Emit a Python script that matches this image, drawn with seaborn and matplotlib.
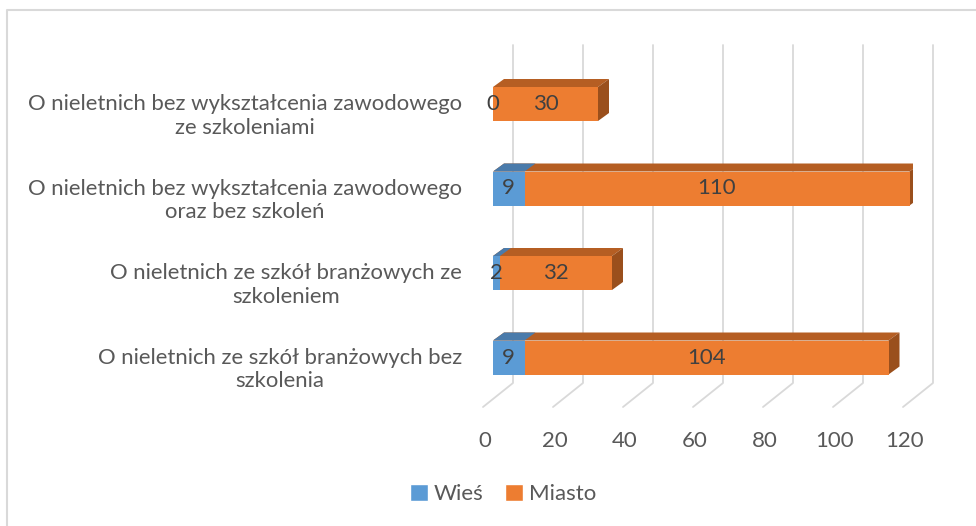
import numpy as np
import pandas as pd
import seaborn as sns
import matplotlib.pyplot as plt
from matplotlib.patches import Polygon, Patch
from matplotlib.lines import Line2D

categories = [
    "O nieletnich bez wykształcenia zawodowego\nze szkoleniami",
    "O nieletnich bez wykształcenia zawodowego\noraz bez szkoleń",
    "O nieletnich ze szkół branżowych ze\nszkoleniem",
    "O nieletnich ze szkół branżowych bez\nszkolenia",
]
wies = [0, 9, 2, 9]
miasto = [30, 110, 32, 104]
ticks = [0, 20, 40, 60, 80, 100, 120]

blue, orange = "#5B9BD5", "#ED7D31"
blue_top = "#4A7BAB"
orange_top, orange_side = "#B55E23", "#9A4F1C"
grey_txt = "#595959"
grid_col = "#D9D9D9"

sns.set_style("white")
plt.rcParams["font.family"] = ["Lato", "DejaVu Sans"]

W, H = 976, 526
fig = plt.figure(figsize=(W / 100, H / 100), dpi=100)

# axes geometry in pixels (front face of bars: 0 at x=493, 3.5 px per unit)
x0_px, ppu = 493, 3.5
xmin, xmax = -4, 120
top_px, bot_px = 45, 407
c0_px, step_px = 104, 84.5
ax = fig.add_axes([(x0_px + xmin * ppu) / W, 1 - bot_px / H,
                   (xmax - xmin) * ppu / W, (bot_px - top_px) / H])

df = pd.DataFrame({"cat": categories, "Wieś": wies, "Miasto": miasto})
df["total"] = df["Wieś"] + df["Miasto"]

bh = 34 / step_px
sns.barplot(data=df, x="total", y="cat", orient="h", color=orange,
            saturation=1, width=bh, ax=ax, zorder=3, linewidth=0)
sns.barplot(data=df, x="Wieś", y="cat", orient="h", color=blue,
            saturation=1, width=bh, ax=ax, zorder=3, linewidth=0)

ax.set_yticks([])
ax.set_ylabel("")
ax.set_xlabel("")
# tick labels sit a little left of the front scale (3D projection)
ax.set_xticks([v - 8 / ppu for v in ticks], labels=[str(v) for v in ticks])
ax.tick_params(axis="x", length=0, pad=17, labelsize=16, labelcolor=grey_txt)

ax.set_xlim(xmin, xmax)
ax.set_ylim((bot_px - c0_px) / step_px, (top_px - c0_px) / step_px)

# pseudo-3D depth faces built from the drawn bars
dx, dy = 11 / ppu, -8 / step_px
n = len(categories)
for k, p in enumerate(list(ax.patches)):
    xa, w = p.get_x(), p.get_width()
    yt, hh = p.get_y(), p.get_height()
    is_total = k < n
    ax.add_patch(Polygon([(xa, yt), (xa + w, yt), (xa + w + dx, yt + dy), (xa + dx, yt + dy)],
                         closed=True, facecolor=orange_top if is_total else blue_top,
                         edgecolor="none", zorder=2.5 if is_total else 2.6))
    if is_total:
        ax.add_patch(Polygon([(xa + w, yt), (xa + w, yt + hh), (xa + w + dx, yt + hh + dy),
                              (xa + w + dx, yt + dy)],
                             closed=True, facecolor=orange_side, edgecolor="none", zorder=2.5))

# back wall gridlines with floor diagonals
g_shift = 20 / ppu
y_top = ax.get_ylim()[1]
y_floor = (383 - c0_px) / step_px
y_bot = ax.get_ylim()[0]
for v in ticks:
    gx = v + g_shift
    ax.add_line(Line2D([gx, gx, gx - 30 / ppu], [y_top, y_floor, y_bot],
                       color=grid_col, lw=1.3, zorder=0, clip_on=False))

# data labels
for i in range(n):
    ax.text(wies[i] / 2, i, str(wies[i]), ha="center", va="center",
            fontsize=16, color="#404040", zorder=5)
    ax.text(wies[i] + miasto[i] / 2, i, str(miasto[i]), ha="center", va="center",
            fontsize=16, color="#404040", zorder=5)

# category labels
for i, lab in enumerate(categories):
    ax.text(-31 / ppu, i + 12 / step_px, lab, ha="right", va="center",
            multialignment="center", fontsize=15.9, color=grey_txt,
            linespacing=1.2, clip_on=False)

for s in ax.spines.values():
    s.set_visible(False)
ax.patch.set_alpha(0)

handles = [Patch(facecolor=blue, label="Wieś"), Patch(facecolor=orange, label="Miasto")]
fig.legend(handles=handles, loc="center", bbox_to_anchor=(503 / W, 1 - 494 / H),
           ncol=2, frameon=False, fontsize=16, handlelength=0.8, handleheight=0.8,
           handletextpad=0.25, columnspacing=1.0, labelcolor=grey_txt)

# chart area border (top and left visible)
fig.add_artist(Line2D([7 / W, 7 / W, 1], [0, 1 - 10 / H, 1 - 10 / H],
                      transform=fig.transFigure, color=grid_col, lw=1.5))

fig.savefig("out.png", dpi=100)
